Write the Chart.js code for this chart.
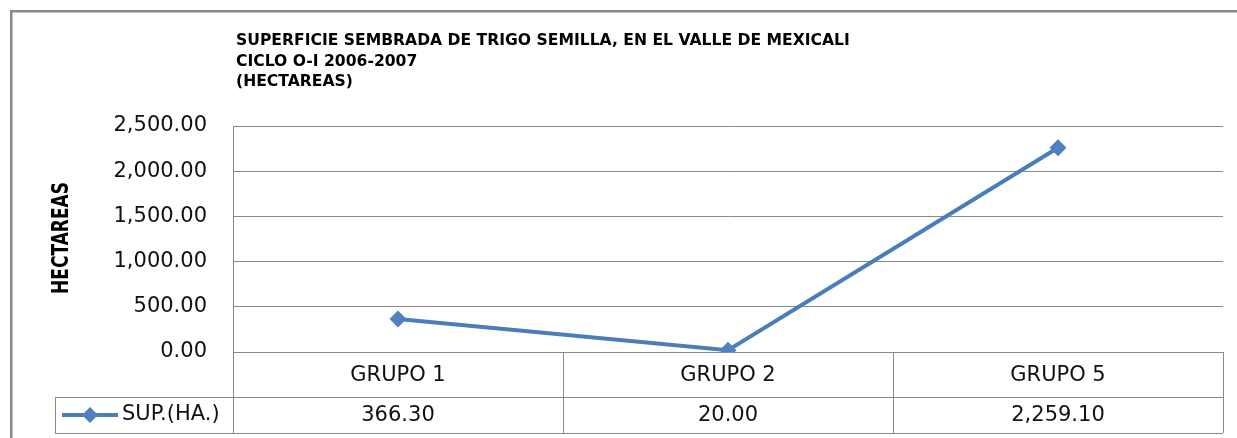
<!DOCTYPE html>
<html>
<head>
<meta charset="utf-8">
<script src="https://cdn.jsdelivr.net/npm/chart.js@4"></script>
<style>
html,body{margin:0;padding:0;background:#fff;}
canvas{display:block;}
</style>
</head>
<body>
<canvas id="trigoChart" width="1237" height="438"></canvas>
<script>

/* DATA */

const grupos=["GRUPO 1","GRUPO 2","GRUPO 5"];
const superficie=[366.30,20.00,2259.10];
const serieNombre="SUP.(HA.)";
const yTicks=[0,500,1000,1500,2000,2500];
const titulo=["SUPERFICIE SEMBRADA DE TRIGO SEMILLA, EN EL VALLE DE MEXICALI","CICLO O-I 2006-2007","(HECTAREAS)"];
const ejeY="HECTAREAS";

const azul="#4a7ebb";
const gris="#898989";
const fuente="'DejaVu Sans', sans-serif";

const fmt=v=>{
const p=v.toFixed(2).split(".");
return p[0].replace(/\B(?=(\d{3})+(?!\d))/g,",")+"."+p[1];
};


/* TABLA + TITULOS */

const tabla={
id:"tabla",

beforeDraw(chart){
const ctx=chart.ctx;
ctx.save();
ctx.fillStyle=gris;
ctx.fillRect(10,10,1227,2.5);
ctx.fillRect(10,10,2.5,428);

ctx.fillStyle="#000";
ctx.font="bold 15.6px "+fuente;
ctx.textAlign="left";
ctx.textBaseline="alphabetic";
titulo.forEach((t,i)=>ctx.fillText(t,236,45+i*20.5));

ctx.translate(62,238);
ctx.rotate(-Math.PI/2);
ctx.scale(1,1.4);
ctx.font="bold 17px "+fuente;
ctx.textAlign="center";
ctx.textBaseline="middle";
ctx.fillText(ejeY,0,0);
ctx.restore();
},

afterDraw(chart){
const ctx=chart.ctx;
const x=chart.scales.x;
const area=chart.chartArea;
const w=(area.right-area.left)/grupos.length;
const top=area.bottom;
const mid=397;
const bot=433;
const izq=55;

ctx.save();
ctx.strokeStyle=gris;
ctx.lineWidth=1;
ctx.beginPath();
ctx.moveTo(area.left+0.5,top);ctx.lineTo(area.left+0.5,bot);
grupos.forEach((g,i)=>{
const r=Math.round(x.getPixelForValue(i)+w/2)+0.5;
ctx.moveTo(r,top);ctx.lineTo(r,bot);
});
ctx.moveTo(izq,mid+0.5);ctx.lineTo(area.right,mid+0.5);
ctx.moveTo(izq,bot+0.5);ctx.lineTo(area.right,bot+0.5);
ctx.moveTo(izq+0.5,mid);ctx.lineTo(izq+0.5,bot);
ctx.stroke();

ctx.fillStyle="#111";
ctx.font="21px "+fuente;
ctx.textAlign="center";
ctx.textBaseline="middle";
grupos.forEach((g,i)=>{
const cx=x.getPixelForValue(i);
ctx.fillText(g,cx,376);
ctx.fillText(fmt(superficie[i]),cx,416);
});

ctx.textAlign="left";
ctx.fillText(serieNombre,122,415);

ctx.strokeStyle=azul;
ctx.lineWidth=4;
ctx.beginPath();
ctx.moveTo(62,415);ctx.lineTo(118,415);
ctx.stroke();
ctx.fillStyle="#4f81bd";
ctx.beginPath();
ctx.moveTo(90,407);ctx.lineTo(98,415);ctx.lineTo(90,423);ctx.lineTo(82,415);
ctx.closePath();
ctx.fill();
ctx.restore();
}
};


/* LINE CHART */

new Chart(document.getElementById("trigoChart"),{

type:"line",

data:{
labels:grupos,
datasets:[{
label:serieNombre,
data:superficie,
borderColor:azul,
backgroundColor:"#4f81bd",
borderWidth:4,
pointStyle:"rectRot",
pointRadius:8.5,
pointBorderWidth:0,
tension:0
}]
},

options:{
responsive:false,
animation:false,
layout:{padding:{top:126,bottom:86,right:14,left:0}},
plugins:{
legend:{display:false},
tooltip:{enabled:false}
},
scales:{
x:{
display:false,
offset:true
},
y:{
min:0,
max:2500,
afterBuildTicks:s=>{s.ticks=yTicks.map(v=>({value:v}));},
afterFit:s=>{s.width=233;},
grid:{color:gris,drawTicks:false,lineWidth:1},
border:{display:true,color:gris,width:1},
ticks:{
padding:26,
color:"#111",
font:{family:"DejaVu Sans",size:21},
callback:v=>fmt(v)
}
}
}
},

plugins:[tabla]

});

</script>
</body>
</html>
